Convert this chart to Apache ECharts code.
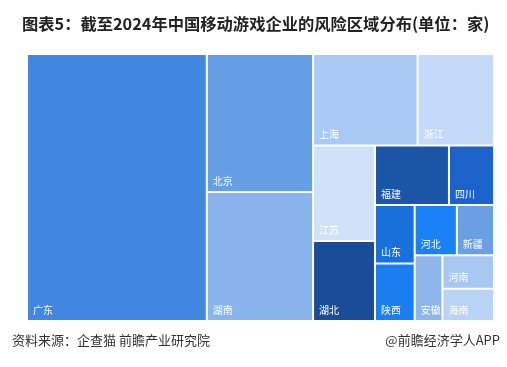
<!DOCTYPE html>
<html>
<head>
<meta charset="utf-8">
<script src="https://cdn.jsdelivr.net/npm/echarts@6/dist/echarts.min.js"></script>
<style>
  html, body { margin: 0; padding: 0; background: #fff; }
  #chart { width: 507px; height: 367px; }
</style>
</head>
<body>
<div id="chart"></div>
<script>
// 地区 & 企业数量（从图中面积估算）
var regions = ["广东", "北京", "湖南", "上海", "浙江", "江苏", "湖北", "福建", "四川", "山东", "陕西", "河北", "新疆", "安徽", "河南", "海南"];
var counts  = [949, 290, 271, 189, 138, 117, 98, 87, 53, 46, 45, 42, 37, 36, 34, 33];
var colors  = ["#4186E0", "#669EE6", "#8AB4EE", "#A9CAF5", "#C4DAF8", "#CFE2FA", "#1A4C98", "#1A55A8", "#1B63C8", "#1A70DA", "#1A7DF0", "#1A80F6", "#6A9FE3", "#8FB6EA", "#A8C8F2", "#B9D4F6"];

var myChart = echarts.init(document.getElementById("chart"));

var treeData = [];
regions.forEach(function (name, i) {
  treeData.push({
    name: name,
    value: counts[i],
    itemStyle: { color: colors[i] }
  });
});

myChart.setOption({
  animation: false,
  title: [
    {
      text: "图表5：截至2024年中国移动游戏企业的风险区域分布(单位：家)",
      left: 17,
      top: 11,
      textStyle: {
        fontFamily: "Noto Sans CJK SC",
        fontSize: 16.3,
        fontWeight: "bold",
        color: "#222"
      }
    },
    {
      text: "资料来源：企查猫 前瞻产业研究院",
      left: 7,
      top: 329,
      textStyle: { fontFamily: "Noto Sans CJK SC", fontSize: 13, fontWeight: "normal", color: "#333" }
    },
    {
      text: "@前瞻经济学人APP",
      right: 2,
      top: 329,
      textStyle: { fontFamily: "Noto Sans CJK SC", fontSize: 13, fontWeight: "normal", color: "#333" }
    }
  ],
  series: [
    {
      type: "treemap",
      left: 28,
      top: 55,
      width: 465,
      height: 265,
      roam: false,
      nodeClick: false,
      squareRatio: 0.75,
      breadcrumb: { show: false },
      itemStyle: { borderWidth: 0, gapWidth: 2 },
      levels: [
        { itemStyle: { borderWidth: 0, gapWidth: 2 } }
      ],
      label: {
        show: true,
        position: "insideBottomLeft",
        color: "#fff",
        fontSize: 10,
        fontFamily: "Noto Sans CJK SC",
        overflow: "none",
        formatter: "{b}"
      },
      data: treeData
    }
  ]
});
</script>
</body>
</html>
